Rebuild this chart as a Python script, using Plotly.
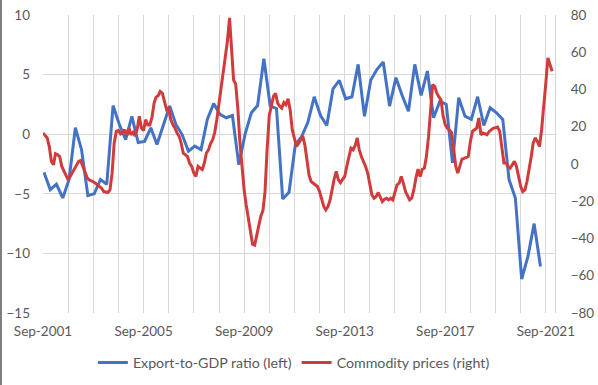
import pandas as pd
import plotly.graph_objects as go

# Export-to-GDP ratio (left axis), quarterly from Sep-2001
export_gdp = [
    -3.2, -4.65, -4.2, -5.35,          # Sep01 Dec01 Mar02 Jun02
    -3.8, 0.54, -1.3, -5.15,           # Sep02 .. Jun03
    -5.0, -3.8, -4.2, 2.4,             # Sep03 .. Jun04
    0.8, -0.45, 1.5, -0.7,             # Sep04 .. Jun05
    -0.6, 0.54, -0.87, 0.76,           # Sep05 .. Jun06
    2.36, 0.82, -0.03, -1.43,          # Sep06 .. Jun07
    -1.0, -1.29, 1.24, 2.58,           # Sep07 .. Jun08
    1.66, 1.38, 1.57, -2.55,           # Sep08 .. Jun09
    0.0, 1.8, 2.4, 6.33,               # Sep09 .. Jun10
    2.36, 2.16, -5.43, -4.87,          # Sep10 .. Jun11
    -0.87, -0.2, 1.0, 3.14,            # Sep11 .. Jun12
    1.57, 0.73, 3.81, 4.51,            # Sep12 .. Jun13
    2.97, 3.14, 5.86, 1.51,            # Sep13 .. Jun14
    4.54, 5.44, 6.05, 2.36,            # Sep14 .. Jun15
    4.74, 3.25, 1.93, 5.86,            # Sep15 .. Jun16
    3.25, 5.3, 1.38, 2.77,             # Sep16 .. Jun17
    2.5, -2.4, 3.06, 1.51,             # Sep17 .. Jun18
    1.24, 3.14, 0.73, 2.22,            # Sep18 .. Jun19
    1.8, 1.24, -3.8, -5.35,            # Sep19 .. Jun20
    -12.15, -10.25, -7.5, -11.1,       # Sep20 .. Jun21
]

# Commodity prices (right axis), monthly from Sep-2001
commodity = [
    16.6, 15.5, 14.0, 9.5,                                                  # 2001 Sep-Dec
    1.4, -0.4, 5.5, 5.0, 4.0, -1.3, -3.5, -5.8, -8.5, -6.7, -4.5, -2.8,      # 2002
    -1.0, 1.4, 1.9, -1.3, -4.9, -7.0, -8.5, -8.9, -9.5, -10.3, -11.2, -12.0, # 2003
    -13.0, -14.8, -15.0, -15.3, -13.9, -4.9, 11.2, 17.5, 18.0, 16.2, 17.0, 18.4,  # 2004
    15.2, 19.3, 15.7, 17.0, 15.0, 18.8, 25.6, 19.3, 18.0, 23.8, 21.0, 21.0,  # 2005
    25.0, 32.7, 35.9, 36.7, 39.0, 38.0, 33.6, 29.2, 30.0, 23.8, 21.0, 19.3,  # 2006
    16.6, 14.8, 11.2, 5.8, 5.0, 4.0, 0.5, -1.3, -4.9, -6.7, -1.3, -2.0,      # 2007
    -3.0, 0.5, 5.8, 7.6, 11.0, 13.0, 17.0, 24.0, 32.0, 40.0, 48.0, 57.0,     # 2008
    66.0, 78.5, 62.0, 45.0, 43.0, 30.0, 12.0, -2.0, -14.0, -22.0, -29.0, -35.0,  # 2009
    -43.0, -43.5, -38.0, -32.0, -28.0, -25.0, -15.0, 8.0, 26.0, 31.0, 36.3, 38.0,  # 2010
    32.7, 31.0, 30.0, 33.0, 31.8, 35.0, 29.2, 18.4, 13.0, 9.4, 11.0, 13.0,   # 2011
    15.0, 10.0, 2.0, -6.0, -9.4, -10.3, -11.0, -12.1, -14.8, -19.3, -22.8, -24.6,  # 2012
    -22.8, -19.3, -13.0, -8.0, -4.0, -8.5, -10.0, -8.5, -6.7, -1.3, 4.0, 8.5,  # 2013
    7.6, 10.0, 14.0, 7.6, 4.0, 1.4, -1.3, -4.9, -10.0, -16.6, -18.4, -17.5,  # 2014
    -15.3, -18.0, -20.2, -18.9, -18.4, -19.3, -18.4, -19.3, -15.0, -11.2, -10.3, -6.7,  # 2015
    -10.3, -14.8, -17.0, -19.3, -18.4, -13.9, -7.6, -2.8, -6.7, -2.8, -2.3, 4.0,  # 2016
    14.8, 31.0, 42.6, 41.7, 38.0, 36.0, 34.5, 25.6, 21.0, 19.3, 18.0, 17.0,  # 2017
    8.0, -1.3, -4.9, -1.3, 2.6, 3.0, 3.5, 4.0, 12.1, 17.5, 18.4, 19.3,       # 2018
    24.7, 15.7, 16.6, 16.0, 15.7, 17.5, 18.4, 19.3, 19.5, 19.8, 17.5, 9.4,   # 2019
    0.5, 0.5, -1.3, -2.2, -0.4, 1.4, -1.3, -6.7, -12.1, -14.8, -13.9, -9.4,  # 2020
    -1.3, 4.0, 11.2, 14.0, 12.1, 9.4, 18.4, 29.2, 43.5, 57.0, 53.3, 49.8,    # 2021
]

tick_years = list(range(2001, 2022))
label_years = [2001, 2005, 2009, 2013, 2017, 2021]

blue_dates = pd.date_range("2001-09-01", periods=len(export_gdp), freq="3MS") + pd.Timedelta(days=14)
red_dates = pd.date_range("2001-09-01", periods=len(commodity), freq="MS")

tickvals = [f"{y}-09-01" for y in tick_years]
ticktext = [f"Sep-{y}" if y in label_years else "" for y in tick_years]

BLUE = "#4472C4"
RED = "#D13B3B"
TXT = "#595959"
GRID = "#D9D9D9"
FONT = "Lato"

fig = go.Figure()
fig.add_trace(go.Scatter(x=blue_dates, y=export_gdp, mode="lines",
                         name="Export-to-GDP ratio (left)",
                         line=dict(color=BLUE, width=3), yaxis="y"))
fig.add_trace(go.Scatter(x=red_dates, y=commodity, mode="lines",
                         name="Commodity prices (right)",
                         line=dict(color=RED, width=3), yaxis="y2"))

fig.update_layout(
    width=598, height=385,
    margin=dict(l=43, r=43, t=15, b=72, autoexpand=False),
    paper_bgcolor="white", plot_bgcolor="white",
    font=dict(family=FONT, size=13.5, color=TXT),
    showlegend=True,
    legend=dict(orientation="h", x=0.49, xanchor="center", y=-0.167, yanchor="middle",
                font=dict(family=FONT, size=14.2, color=TXT), itemwidth=30),
    xaxis=dict(type="date", range=["2001-09-01", "2022-01-12"], automargin=False,
               tickmode="array", tickvals=tickvals, ticktext=ticktext,
               showgrid=True, gridcolor=GRID, gridwidth=1,
               showline=False, zeroline=False, ticks="",
               ticklabelstandoff=8),
    yaxis=dict(range=[-15, 10], tickmode="linear", tick0=-15, dtick=5, automargin=False,
               showgrid=True, gridcolor=GRID, gridwidth=1, zeroline=False,
               showline=False, ticks="", ticklabelstandoff=12),
    yaxis2=dict(range=[-80, 80], tickmode="linear", tick0=-80, dtick=20, automargin=False,
                overlaying="y", side="right", showgrid=False, zeroline=False,
                showline=True, linecolor=GRID, linewidth=1, ticks="",
                ticklabelstandoff=12),
    shapes=[dict(type="line", xref="paper", yref="paper",
                 x0=(1 - 43) / 512, x1=(1 - 43) / 512, y0=-0.3, y1=1.1,
                 line=dict(color="#7F7F7F", width=2))],
)

fig.write_html("out.html",
               config={"displayModeBar": False},
               post_script="document.body.style.margin='0';document.body.style.overflow='hidden';")
